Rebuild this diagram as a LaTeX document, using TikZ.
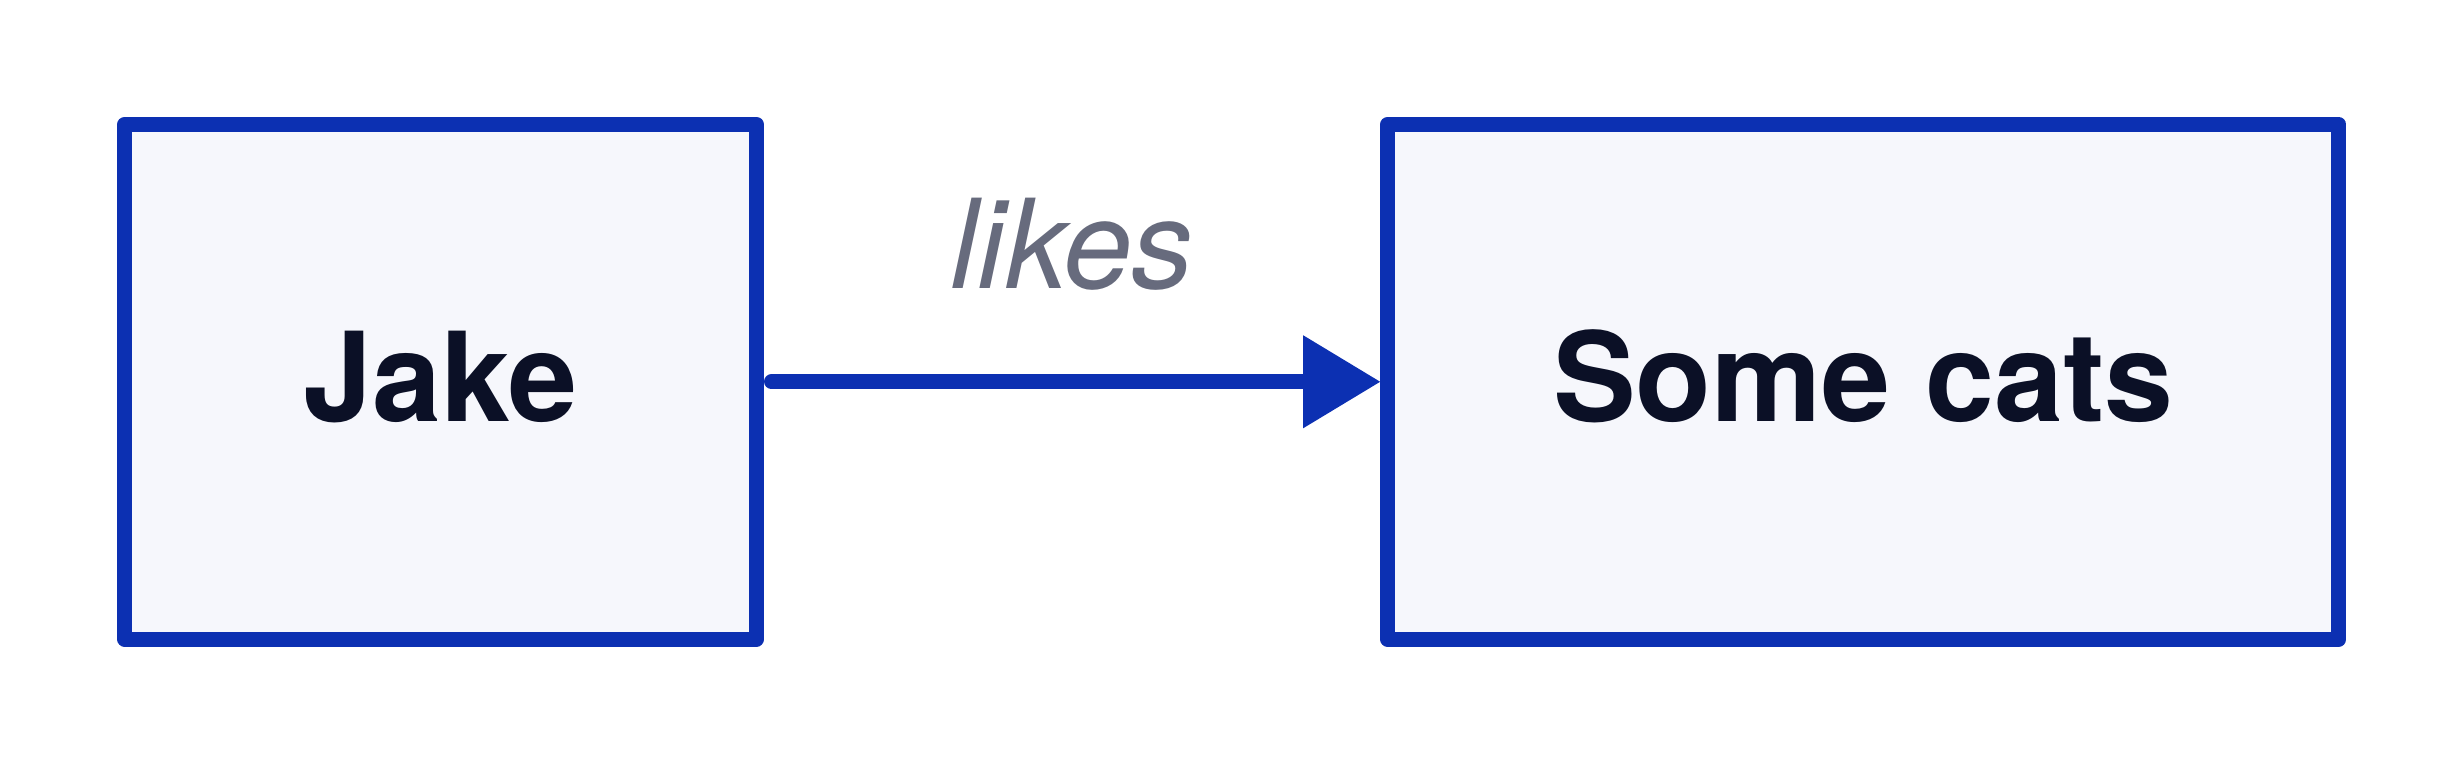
\documentclass[tikz,border=0pt]{standalone}
\usepackage{fontspec}
\setmainfont{TeX Gyre Heros}
\usetikzlibrary{arrows.meta}
\definecolor{boxblue}{HTML}{0C30B2}
\definecolor{boxfill}{HTML}{F6F7FC}
\definecolor{txtdark}{HTML}{0B1026}
\definecolor{txtgray}{HTML}{676B7D}
\tikzset{
  entity/.style={draw=boxblue, fill=boxfill, line width=15pt, line join=round,
    rectangle, minimum height=514.5pt, inner sep=0pt, text=txtdark,
    font=\fontsize{124}{124}\selectfont\bfseries, text height=90pt, text depth=11.5pt},
  rel/.style={draw=boxblue, line width=15pt, line cap=round,
    -{Triangle[length=77pt,width=93pt,line width=0pt]}},
  lbl/.style={text=txtgray, font=\fontsize{124}{124}\selectfont\itshape, inner sep=0pt}
}
\begin{document}
\begin{tikzpicture}[x=1pt,y=-1pt]
\useasboundingbox (0,0) rectangle (2464,764);
\node[entity, minimum width=631.8pt] (jake) at (440.6,381.75) {Jake};
\node[entity, minimum width=951.3pt] (cats) at (1863.3,381.75) {Some cats};
\draw[rel, shorten <=7.5pt] (jake.east) -- (cats.west);
\node[lbl, anchor=base] (likes) at (1072,288) {likes};
\end{tikzpicture}
\end{document}
